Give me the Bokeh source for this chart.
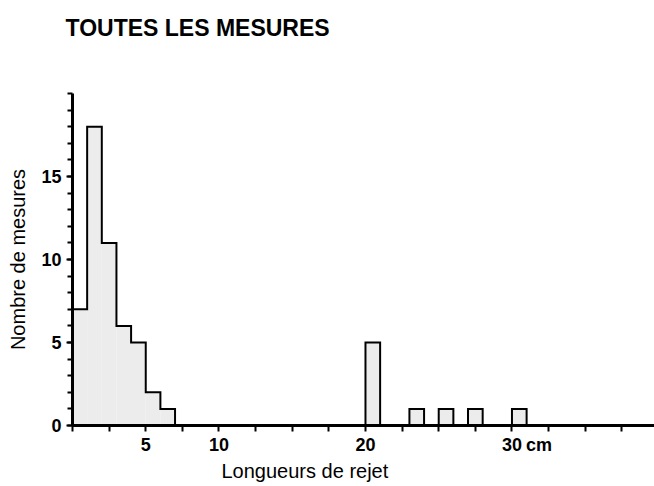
import numpy as np
from bokeh.plotting import figure
from bokeh.models import FixedTicker, Range1d, Title, CustomJSTickFormatter
from bokeh.embed import file_html
from bokeh.resources import INLINE

# ---------------- data ----------------
title_text = "TOUTES LES MESURES"
x_label = "Longueurs de rejet"
y_label = "Nombre de mesures"
unit_label = "cm"

# contiguous main cluster (1 cm bins)
main_left = [0, 1, 2, 3, 4, 5, 6]
main_counts = [7, 18, 11, 6, 5, 2, 1]
# isolated bins
iso_left = [20, 23, 25, 27, 30]
iso_counts = [5, 1, 1, 1, 1]
bin_width = 1

x_tick_values = [5, 10, 20, 30]
x_tick_labels = ["5", "10", "20", "30"]
x_minor_ticks = [0, 2.5, 5, 7.5, 10, 12.5, 15, 17.5, 20, 22.5, 25, 27.5, 30, 32.5, 35, 37.5]
y_major_ticks = [0, 5, 10, 15]
y_minor_ticks = list(range(0, 21))

# ---------------- styles / layout ----------------
FONT = "Liberation Sans"
FILL = "#ececec"
UNIT_POS = 31.84  # where the unit text sits along the x axis

p = figure(width=654, height=486, output_backend="svg", toolbar_location=None,
           x_range=Range1d(0, 39.73), y_range=Range1d(0, 20),
           min_border_left=72, min_border_right=0, min_border_top=93, min_border_bottom=61)
p.outline_line_color = None
p.grid.visible = False
p.background_fill_color = "white"
p.border_fill_color = "white"
p.title.visible = False

# spacer between frame and title (blank), then the title itself further out
p.add_layout(Title(text="\u00a0", text_font=FONT, text_font_size="10px", standoff=40), "above")
p.add_layout(Title(text=title_text, align="left", offset=-7, standoff=0,
                   text_font=FONT, text_font_style="bold", text_font_size="23px",
                   text_color="black"), "above")

# main cluster: fill without inner lines, then step outline
main_right = [l + bin_width for l in main_left]
p.quad(left=main_left, right=main_right, bottom=0, top=main_counts,
       fill_color=FILL, line_color=None)
sx, sy = [main_left[0]], [0]
for l, r, h in zip(main_left, main_right, main_counts):
    sx += [l, r]
    sy += [h, h]
sx.append(main_right[-1])
sy.append(0)
p.line(sx, sy, line_color="black", line_width=2, line_join="miter")

# isolated bars
iso_right = [l + bin_width for l in iso_left]
p.quad(left=iso_left, right=iso_right, bottom=0, top=iso_counts,
       fill_color=FILL, line_color="black", line_width=2, line_join="miter")

# axes
for ax in (p.xaxis[0], p.yaxis[0]):
    ax.axis_line_width = 3
    ax.axis_line_color = "black"
    ax.major_tick_line_width = 2
    ax.minor_tick_line_width = 2
    ax.major_tick_in = 0
    ax.minor_tick_in = 0
    ax.major_label_text_font = FONT
    ax.major_label_text_font_style = "bold"
    ax.major_label_text_font_size = "18px"
    ax.major_label_text_color = "black"

# x axis: visible ticks are the minor ones; labelled (invisible) majors incl. unit text
all_x_ticks = x_tick_values + [UNIT_POS]
all_x_labels = x_tick_labels + [unit_label]
p.xaxis.ticker = FixedTicker(ticks=all_x_ticks, minor_ticks=x_minor_ticks)
p.xaxis.formatter = CustomJSTickFormatter(
    args=dict(vals=all_x_ticks, labels=all_x_labels),
    code="""
    for (let i = 0; i < vals.length; i++) {
        if (Math.abs(vals[i] - tick) < 1e-6) return labels[i];
    }
    return "";
    """)
p.xaxis.major_tick_out = 0
p.xaxis.minor_tick_out = 6
p.xaxis.major_label_standoff = 3

p.yaxis.ticker = FixedTicker(ticks=y_major_ticks, minor_ticks=y_minor_ticks)
p.yaxis.major_tick_out = 6
p.yaxis.minor_tick_out = 5
p.yaxis.major_label_standoff = 5
p.yaxis.axis_label = y_label
p.yaxis.axis_label_text_font = FONT
p.yaxis.axis_label_text_font_style = "normal"
p.yaxis.axis_label_text_font_size = "20px"
p.yaxis.axis_label_text_color = "black"
p.yaxis.axis_label_standoff = 9

# x axis label as a left-aligned title below the axis
p.add_layout(Title(text=x_label, align="left", offset=149, standoff=0,
                   text_font=FONT, text_font_style="normal", text_font_size="20px",
                   text_color="black"), "below")

open("out.html", "w").write(file_html(p, INLINE))
